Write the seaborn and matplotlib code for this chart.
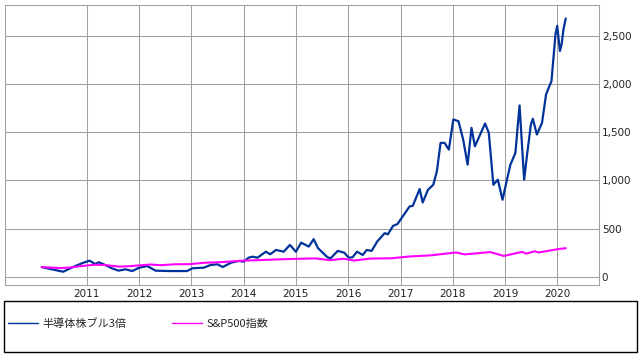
import pandas as pd
import seaborn as sns
import matplotlib.pyplot as plt
import matplotlib.dates as mdates
from matplotlib.ticker import FuncFormatter
from matplotlib.patches import Rectangle

# 半導体株ブル3倍 (index = 100 at start)
bull_dates = ['2010-02-20', '2010-05-01', '2010-07-20', '2010-10-01', '2010-11-28',
              '2011-01-20', '2011-02-28', '2011-03-25', '2011-04-25', '2011-06-25',
              '2011-08-10', '2011-09-28', '2011-11-15', '2012-01-01', '2012-02-28',
              '2012-04-25', '2012-08-07', '2012-12-01', '2013-01-08', '2013-03-28',
              '2013-05-15', '2013-07-01', '2013-08-08', '2013-10-05', '2013-11-28',
              '2014-01-01', '2014-02-05', '2014-03-03', '2014-04-08', '2014-06-05',
              '2014-07-05', '2014-08-15', '2014-10-08', '2014-11-20', '2015-01-01',
              '2015-02-07', '2015-04-01', '2015-05-05', '2015-06-05', '2015-08-10',
              '2015-09-01', '2015-10-20', '2015-12-05', '2016-01-05', '2016-02-01',
              '2016-03-03', '2016-04-12', '2016-05-10', '2016-06-13', '2016-07-22',
              '2016-09-12', '2016-10-05', '2016-11-10', '2016-12-10', '2017-01-08',
              '2017-03-05', '2017-03-28', '2017-05-15', '2017-06-05', '2017-07-12',
              '2017-08-18', '2017-09-12', '2017-10-08', '2017-11-05', '2017-12-05',
              '2018-01-05', '2018-02-10', '2018-03-15', '2018-04-15', '2018-05-12',
              '2018-06-05', '2018-08-15', '2018-09-10', '2018-10-12', '2018-11-12',
              '2018-12-15', '2019-01-15', '2019-02-08', '2019-03-15', '2019-04-01',
              '2019-04-13', '2019-04-24', '2019-05-15', '2019-06-03', '2019-07-01',
              '2019-07-15', '2019-08-12', '2019-09-17', '2019-10-15', '2019-11-22',
              '2019-12-20', '2020-01-01', '2020-01-20', '2020-02-01', '2020-02-14',
              '2020-03-01']
bull_values = [100, 77, 52, 104, 140,
               167, 132, 150, 132, 88,
               63, 77, 59, 94, 111,
               63, 59, 59, 88, 94,
               122, 129, 101, 146, 164,
               156, 198, 208, 198, 260,
               233, 278, 260, 330, 260,
               354, 313, 390, 296, 202,
               192, 268, 250, 198, 202,
               260, 226, 278, 268, 365,
               452, 441, 528, 546, 608,
               729, 737, 911, 771, 903,
               955, 1094, 1390, 1390, 1320,
               1633, 1615, 1424, 1164, 1546,
               1355, 1591, 1494, 955, 1008,
               799, 1008, 1164, 1286, 1581,
               1779, 1511, 1008, 1250, 1581,
               1640, 1477, 1598, 1893, 2032,
               2518, 2605, 2345, 2414, 2571,
               2682]

# S&P500指数
sp_dates = ['2010-02-20', '2010-06-30', '2010-09-01', '2010-12-01', '2011-02-28',
            '2011-05-01', '2011-08-20', '2011-10-30', '2012-03-20', '2012-06-01',
            '2012-09-15', '2012-12-15', '2013-04-01', '2013-08-01', '2013-12-31',
            '2014-06-01', '2014-12-01', '2015-05-20', '2015-08-25', '2015-12-01',
            '2016-02-10', '2016-06-01', '2016-11-01', '2017-03-01', '2017-08-01',
            '2018-01-25', '2018-03-25', '2018-09-20', '2018-12-24', '2019-04-30',
            '2019-06-01', '2019-07-25', '2019-08-25', '2019-11-25', '2020-01-20',
            '2020-03-01']
sp_values = [100, 90, 95, 112, 125,
             122, 105, 110, 127, 120,
             130, 130, 145, 152, 167,
             175, 185, 190, 172, 187,
             168, 188, 192, 210, 222,
             252, 232, 256, 216, 258,
             240, 264, 252, 276, 290,
             296]

labels = ['半導体株ブル3倍', 'S&P500指数']
colors = ['#003399', '#ff00ff']
year_ticks = list(range(2011, 2021))
y_ticks = [0, 500, 1000, 1500, 2000, 2500]

sns.set_theme(style='white')
plt.rcParams['font.family'] = ['DejaVu Sans']

bull = pd.DataFrame({'date': pd.to_datetime(bull_dates), 'value': bull_values})
sp = pd.DataFrame({'date': pd.to_datetime(sp_dates), 'value': sp_values})

fig = plt.figure(figsize=(6.42, 3.56), dpi=100)
ax = fig.add_axes([0.0073, 0.1994, 0.9257, 0.7866])

sns.lineplot(data=bull, x='date', y='value', ax=ax, color=colors[0], linewidth=1.6, label=labels[0])
sns.lineplot(data=sp, x='date', y='value', ax=ax, color=colors[1], linewidth=1.5, label=labels[1])

ax.set_xlim(pd.Timestamp('2009-06-06'), pd.Timestamp('2020-10-19'))
ax.set_ylim(-86, 2822)
ax.set_xticks([pd.Timestamp(f'{y}-01-01') for y in year_ticks])
ax.xaxis.set_major_formatter(mdates.DateFormatter('%Y'))
ax.set_yticks(y_ticks)
ax.yaxis.set_major_formatter(FuncFormatter(lambda v, p: f'{int(v):,}'))
ax.yaxis.tick_right()
ax.tick_params(axis='both', length=0, labelsize=7.5, colors='#222222')
ax.tick_params(axis='y', pad=2)
ax.tick_params(axis='x', pad=3)
ax.set_xlabel('')
ax.set_ylabel('')
ax.grid(True, color='#a0a0a0', linewidth=0.75)
for s in ax.spines.values():
    s.set_color('#a0a0a0')
    s.set_linewidth(0.75)

handles, _ = ax.get_legend_handles_labels()
ax.get_legend().remove()

# legend box under the chart
fig.patches.append(Rectangle((0.0062, 0.0112), 0.986, 0.143, transform=fig.transFigure,
                             fill=False, edgecolor='black', linewidth=1.0))
leg = fig.legend(handles, labels, loc='center left', bbox_to_anchor=(0.0125, 0.09),
                 ncol=2, frameon=False, handlelength=2.7, handletextpad=0.4,
                 columnspacing=4.1, borderaxespad=0, borderpad=0,
                 prop={'family': ['Noto Sans CJK JP', 'DejaVu Sans'], 'size': 8})
for line in leg.get_lines():
    line.set_linewidth(1.0)

fig.savefig('out.png', dpi=100)
